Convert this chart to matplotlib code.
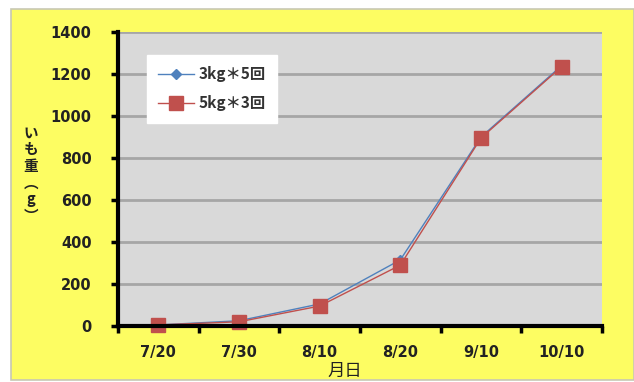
import matplotlib
matplotlib.use("Agg")
import matplotlib.pyplot as plt
from matplotlib.patches import Rectangle
import numpy as np

plt.rcParams['font.family'] = ['DejaVu Sans', 'Noto Sans CJK JP']

dates = ["7/20", "7/30", "8/10", "8/20", "9/10", "10/10"]
series_a = [5, 25, 105, 315, 900, 1240]   # 3kg＊5回
series_b = [5, 20, 95, 290, 895, 1235]    # 5kg＊3回
label_a = "3kg＊5回"
label_b = "5kg＊3回"
y_ticks = [0, 200, 400, 600, 800, 1000, 1200, 1400]

W, H = 634, 382
fig = plt.figure(figsize=(W / 100, H / 100), dpi=100, facecolor="white")

# yellow chart panel behind everything
fig.patches.append(Rectangle((11 / W, 2 / H), (W - 11) / W, (H - 11) / H,
                             transform=fig.transFigure, facecolor="#fdfd62",
                             edgecolor="#c8c8b4", linewidth=1.2, zorder=-10))

ax = fig.add_axes([118 / W, 1 - 326 / H, (602 - 118) / W, (326 - 32) / H])
ax.set_zorder(1)
ax.set_facecolor("#d9d9d9")

x = np.arange(len(dates))
ax.plot(x, series_a, color="#4f81bd", lw=1, marker="D", ms=5,
        mfc="#4f81bd", mec="#4f81bd", label=label_a, zorder=3, clip_on=False)
ax.plot(x, series_b, color="#c0504d", lw=1, marker="s", ms=10.5,
        mfc="#c0504d", mec="#c0504d", label=label_b, zorder=4, clip_on=False)

ax.set_xlim(-0.5, len(dates) - 0.5)
ax.set_ylim(0, 1400)
ax.set_yticks(y_ticks)
ax.set_yticklabels([str(v) for v in y_ticks], fontsize=10.5, fontweight="bold",
                   color="#222222")
ax.set_xticks(np.arange(-0.5, len(dates), 1.0))
ax.set_xticklabels([])
ax.set_xticks(x, minor=True)
ax.set_xticklabels(dates, minor=True, fontsize=10.5, fontweight="bold",
                   color="#222222")
ax.tick_params(axis="x", which="minor", length=0, pad=14)
ax.tick_params(axis="x", which="major", length=5, width=2.5, direction="out")
ax.tick_params(axis="y", length=5, width=2.5, direction="out", pad=14)

ax.grid(axis="y", color="#a6a6a6", lw=2)
ax.set_axisbelow(True)
for s in ["top", "right"]:
    ax.spines[s].set_visible(False)
for s in ["left", "bottom"]:
    ax.spines[s].set_linewidth(3)
    ax.spines[s].set_color("black")
    ax.spines[s].set_zorder(5)

leg = ax.legend(loc="upper left", bbox_to_anchor=(29 / 484, 1 - 23 / 294),
                frameon=True, fancybox=False, framealpha=1, edgecolor="white",
                facecolor="white", borderpad=0.75, labelspacing=0.85,
                handlelength=2.3, handletextpad=0.3, borderaxespad=0,
                prop={"family": ["Noto Sans CJK JP"], "size": 11, "weight": "bold"})
leg.set_zorder(10)
for t in leg.get_texts():
    t.set_color("#333333")

fig.text(345 / W, 1 - 371 / H, "月日", ha="center", va="center",
         fontsize=12.5, family=["Noto Sans CJK JP"], color="#222222")
fig.text(31 / W, 1 - 174 / H, "い\nも\n重\n︵\ng\n︶", ha="center", va="center",
         fontsize=10.5, family=["Noto Sans CJK JP"], linespacing=1.05,
         color="#222222", fontweight="bold")

fig.savefig("out.png", dpi=100, facecolor="white")
